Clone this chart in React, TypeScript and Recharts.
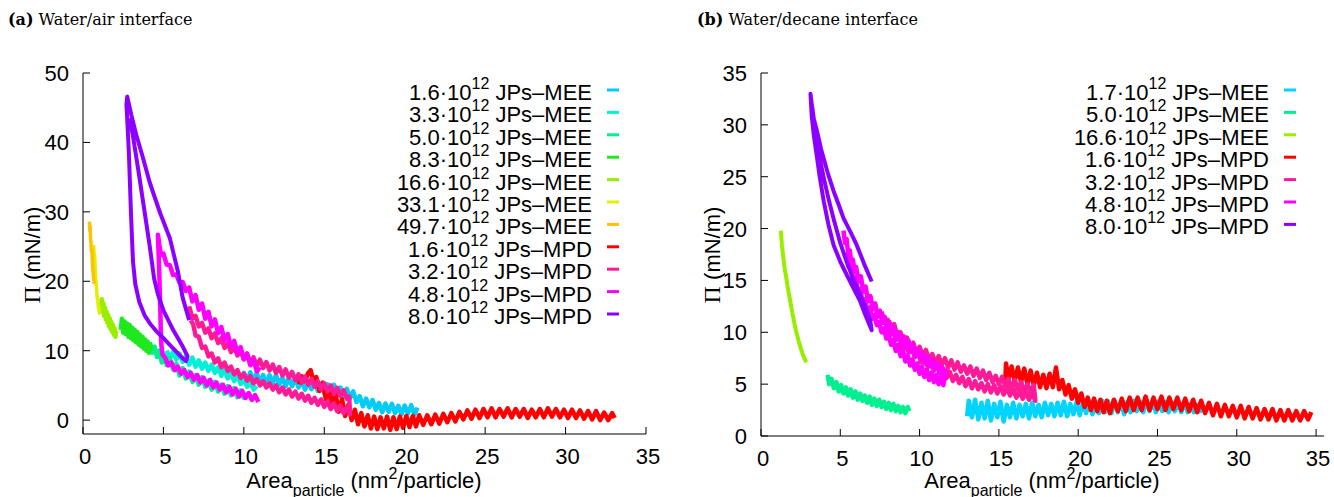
import { LineChart, Line, XAxis, YAxis } from "recharts";

// Two Langmuir isotherm panels (surface pressure vs area per particle),
// water/air on the left, water/decane on the right. Each run is a noisy,
// thick trace, so the points below are read off the picture with the jitter kept.

type Pt = [number, number];

const SANS = "'Liberation Sans', Arial, Helvetica, sans-serif";
const SERIF = "'DejaVu Serif', 'Liberation Serif', serif";

const xTicks = [0, 5, 10, 15, 20, 25, 30, 35];
const airYTicks = [0, 10, 20, 30, 40, 50];
const decYTicks = [0, 5, 10, 15, 20, 25, 30, 35];

// ---- (a) water/air ----
const airMee1_6: Pt[] = [
  [9.6, 7.0], [9.8, 5.85], [10.0, 6.8], [10.2, 5.65], [10.4, 6.9], [10.6, 5.7], [10.8, 6.8], [11.0, 5.4],
  [11.2, 6.5], [11.4, 5.25], [11.6, 6.5], [11.8, 5.35], [12.0, 6.5], [12.2, 5.1], [12.4, 6.15], [12.6, 4.9],
  [12.8, 6.1], [13.0, 4.9], [13.2, 6.05], [13.4, 4.7], [13.6, 5.7], [13.8, 4.4], [14.0, 5.6], [14.2, 4.45],
  [14.4, 5.6], [14.6, 4.2], [14.8, 5.2], [15.0, 3.9], [15.2, 5.15], [15.4, 4.0], [15.6, 5.1], [15.8, 3.7],
  [16.0, 4.7], [16.2, 3.35], [16.4, 4.5], [16.6, 3.2], [16.8, 4.15], [17.0, 2.6], [17.2, 3.45], [17.4, 2.0],
  [17.6, 3.1], [17.8, 1.85], [18.0, 2.9], [18.2, 1.5], [18.4, 2.45], [18.6, 1.15], [18.8, 2.4], [19.0, 1.2],
  [19.2, 2.35], [19.4, 1.0], [19.6, 2.05], [19.8, 0.8], [20.0, 2.1], [20.2, 0.95], [20.4, 2.15], [20.6, 0.8],
  [20.8, 1.8],
];
const airMee3_3: Pt[] = [
  [5.2, 10.0], [5.4, 8.9], [5.6, 9.8], [5.8, 8.7], [6.0, 9.6], [6.2, 8.4], [6.4, 9.2], [6.6, 8.0],
  [6.8, 9.0], [7.0, 7.7], [7.2, 8.6], [7.4, 7.4], [7.6, 8.3], [7.8, 7.1], [8.0, 8.0], [8.2, 6.8],
  [8.4, 7.6], [8.6, 6.4], [8.8, 7.3], [9.0, 6.0], [9.2, 6.8], [9.4, 5.6], [9.6, 6.4], [9.8, 5.2],
  [10.0, 6.0], [10.2, 4.8], [10.4, 5.5], [10.6, 4.4], [10.8, 4.9],
];
const airMee5_0: Pt[] = [
  [4.15, 11.2], [4.3, 9.7], [4.45, 10.6], [4.6, 9.1], [4.75, 10.0], [4.9, 8.3], [5.05, 9.4], [5.2, 7.9],
  [5.4, 8.9], [5.6, 7.3], [5.8, 8.1], [6.0, 6.4], [6.2, 7.5], [6.4, 6.0], [6.6, 7.0], [6.8, 5.5],
  [7.0, 6.5], [7.2, 5.1], [7.4, 6.2], [7.6, 4.8], [7.8, 5.7], [8.0, 4.4], [8.2, 5.5], [8.4, 4.1],
  [8.6, 5.1], [8.8, 3.8], [9.0, 4.9], [9.2, 3.6], [9.4, 4.6], [9.6, 3.3], [9.8, 4.3], [10.0, 3.2],
  [10.1, 3.9],
];
const airMee8_3: Pt[] = [
  [2.35, 13.0], [2.42, 14.6], [2.5, 12.6], [2.58, 14.2], [2.66, 12.4], [2.74, 13.9], [2.82, 12.0],
  [2.9, 13.7], [2.98, 11.8], [3.06, 13.3], [3.14, 11.5], [3.22, 13.0], [3.3, 11.2], [3.38, 12.7],
  [3.46, 10.9], [3.54, 12.3], [3.62, 10.6], [3.7, 12.0], [3.78, 10.3], [3.86, 11.6], [3.94, 10.0],
  [4.02, 11.3], [4.1, 9.7], [4.18, 10.9], [4.24, 10.0],
];
const airMee16_6: Pt[] = [
  [1.12, 16.2], [1.17, 17.4], [1.22, 15.6], [1.27, 16.8], [1.32, 15.0], [1.37, 16.2], [1.42, 14.5],
  [1.47, 15.6], [1.52, 14.0], [1.57, 15.1], [1.62, 13.5], [1.67, 14.6], [1.72, 13.1], [1.77, 14.1],
  [1.82, 12.7], [1.87, 13.7], [1.92, 12.3], [1.97, 13.2], [2.02, 12.0], [2.06, 12.8],
];
const airMee33_1: Pt[] = [
  [0.66, 25.2], [0.69, 23.6], [0.72, 23.9], [0.75, 22.2], [0.78, 21.0], [0.81, 19.6], [0.84, 19.0],
  [0.88, 17.6], [0.92, 17.2], [0.96, 16.2], [1.0, 15.8], [1.05, 15.2],
];
const airMee49_7: Pt[] = [
  [0.4, 28.6], [0.42, 27.3], [0.45, 27.9], [0.47, 26.1], [0.5, 25.5], [0.52, 24.3], [0.55, 24.7],
  [0.58, 22.9], [0.6, 22.1], [0.63, 21.3], [0.66, 20.5], [0.7, 19.6],
];
const airMpd1_6: Pt[] = [
  [13.4, 5.2], [13.6, 6.3], [13.8, 5.6], [14.0, 6.8], [14.15, 7.2], [14.3, 5.8], [14.5, 6.2], [14.7, 4.2],
  [14.9, 5.4], [15.1, 3.0], [15.3, 4.5], [15.5, 2.0], [15.7, 3.8], [15.9, 1.2], [16.1, 3.0], [16.3, 0.6],
  [16.5, 2.2], [16.7, 0.0], [16.9, 1.5], [17.1, -0.6], [17.3, 1.0], [17.5, -0.9], [17.7, 0.7], [17.9, -1.2],
  [18.1, 0.5], [18.3, -1.3], [18.5, 0.4], [18.7, -1.2], [18.9, 0.5], [19.1, -1.4], [19.3, 0.4], [19.5, -1.3],
  [19.7, 0.5], [19.9, -1.1], [20.1, 0.6], [20.3, -1.0], [20.5, 0.6], [20.7, -0.9], [20.9, 0.7], [21.15, -0.7],
  [21.4, 0.7], [21.65, -0.6], [21.9, 0.8], [22.15, -0.5], [22.4, 0.9], [22.65, -0.3], [22.9, 1.0], [23.15, -0.2],
  [23.4, 1.2], [23.65, 0.1], [23.9, 1.4], [24.15, 0.2], [24.4, 1.5], [24.65, 0.3], [24.9, 1.6], [25.15, 0.4],
  [25.4, 1.7], [25.65, 0.4], [25.9, 1.6], [26.15, 0.5], [26.4, 1.7], [26.65, 0.4], [26.9, 1.6], [27.15, 0.5],
  [27.4, 1.6], [27.65, 0.3], [27.9, 1.5], [28.15, 0.4], [28.4, 1.6], [28.65, 0.4], [28.9, 1.7], [29.15, 0.5],
  [29.4, 1.6], [29.65, 0.4], [29.9, 1.5], [30.15, 0.3], [30.4, 1.5], [30.65, 0.3], [30.9, 1.4], [31.15, 0.2],
  [31.4, 1.3], [31.65, 0.1], [31.9, 1.3], [32.15, 0.0], [32.4, 1.1], [32.65, 0.0], [32.9, 1.0], [33.05, 0.3],
];
const airMpd3_2: Pt[] = [
  [6.6, 16.4], [6.8, 14.7], [7.0, 15.0], [7.2, 13.5], [7.4, 14.0], [7.6, 12.6], [7.8, 13.2], [8.0, 11.8],
  [8.2, 12.5], [8.4, 11.1], [8.6, 11.8], [8.8, 10.4], [9.0, 11.1], [9.2, 9.8], [9.4, 10.55], [9.6, 9.3],
  [9.8, 10.0], [10.0, 8.75], [10.2, 9.5], [10.4, 8.2], [10.6, 9.05], [10.8, 7.85], [11.0, 8.7], [11.2, 7.5],
  [11.4, 8.35], [11.6, 7.15], [11.8, 8.0], [12.0, 6.8], [12.2, 7.65], [12.4, 6.45], [12.6, 7.3], [12.8, 6.1],
  [13.0, 6.95], [13.2, 5.75], [13.4, 6.6], [13.6, 5.4], [13.8, 6.25], [14.0, 5.1], [14.2, 5.95], [14.4, 4.8],
  [14.6, 5.6], [14.8, 4.45], [15.0, 5.3], [15.2, 4.15], [15.4, 5.0], [15.6, 3.8], [15.8, 4.65], [16.0, 3.5],
  [16.2, 4.3], [16.4, 3.1], [16.55, 3.4],
  [16.6, 0.8], [16.4, 1.8], [16.2, 1.0], [16.0, 2.1], [15.8, 1.3], [15.6, 2.4], [15.4, 1.6], [15.2, 2.7],
  [15.0, 1.9], [14.8, 3.0], [14.6, 2.2], [14.4, 3.2], [14.2, 2.5], [14.0, 3.5], [13.8, 2.8], [13.6, 3.8],
  [13.4, 3.1], [13.2, 4.1], [13.0, 3.4], [12.8, 4.4], [12.6, 3.7], [12.4, 4.7], [12.2, 4.0], [12.0, 5.0],
  [11.8, 4.4], [11.6, 5.3], [11.4, 4.7], [11.2, 5.6], [11.0, 5.0], [10.8, 5.9], [10.6, 5.3], [10.4, 6.3],
  [10.2, 5.7], [10.0, 6.7], [9.8, 6.1], [9.6, 7.2], [9.4, 6.6], [9.2, 7.7], [9.0, 7.1], [8.8, 8.3],
  [8.6, 7.6], [8.4, 8.9], [8.2, 8.3], [8.0, 9.6], [7.8, 9.2], [7.6, 10.6], [7.4, 10.4], [7.2, 12.0],
  [7.0, 12.2], [6.85, 13.8], [6.7, 14.4],
];
const airMpd4_8: Pt[] = [
  [10.9, 2.6], [10.7, 3.6], [10.5, 2.9], [10.3, 3.9], [10.1, 3.2], [9.9, 4.2], [9.7, 3.4], [9.5, 4.5],
  [9.3, 3.7], [9.1, 4.8], [8.9, 4.0], [8.7, 5.1], [8.5, 4.4], [8.3, 5.4], [8.1, 4.7], [7.9, 5.8],
  [7.7, 5.0], [7.5, 6.1], [7.3, 5.4], [7.1, 6.5], [6.9, 5.8], [6.7, 6.8], [6.5, 6.2], [6.3, 7.2],
  [6.1, 6.7], [5.9, 7.7], [5.7, 7.2], [5.5, 8.3], [5.3, 7.9], [5.1, 9.0], [4.95, 9.4], [4.88, 10.6],
  [4.85, 12.0], [4.82, 14.5], [4.78, 18.0], [4.74, 21.5], [4.7, 24.0], [4.66, 26.7],
  [4.75, 25.2], [4.85, 23.8], [5.0, 24.0], [5.2, 22.4], [5.4, 22.3], [5.6, 20.9], [5.8, 21.0], [6.0, 19.8],
  [6.2, 19.9], [6.4, 18.6], [6.6, 19.1], [6.8, 17.1], [7.0, 18.0], [7.2, 15.9], [7.4, 16.8], [7.6, 14.6],
  [7.8, 15.6], [8.0, 13.5], [8.2, 14.5], [8.4, 12.5], [8.6, 13.4], [8.8, 11.5], [9.0, 12.4], [9.2, 10.6],
  [9.4, 11.4], [9.6, 9.7], [9.8, 10.5], [10.0, 8.8], [10.2, 9.6], [10.4, 7.9], [10.6, 8.7], [10.8, 7.0],
  [11.0, 7.6],
];
const airMpd8_0: Pt[] = [
  [6.6, 14.4], [6.2, 17.6], [5.9, 21.4], [5.4, 26.2], [4.8, 29.8], [4.4, 32.5], [4.14, 34.3], [3.7, 38.0],
  [3.31, 41.1], [3.0, 44.0], [2.75, 46.6],
  [2.7, 45.5], [2.78, 42.0], [2.85, 38.6], [2.92, 34.0], [2.98, 30.0], [3.04, 26.5], [3.11, 22.8],
  [3.25, 19.6], [3.5, 17.0], [3.83, 15.1], [4.2, 13.8], [4.56, 12.8], [5.0, 11.8], [5.5, 10.6],
  [5.9, 9.6], [6.2, 8.9], [6.4, 8.5],
  [6.5, 9.2], [6.2, 10.6], [5.6, 13.0], [5.0, 15.8], [4.65, 18.2], [4.42, 20.4], [4.14, 25.2],
  [3.83, 30.0], [3.42, 36.3], [3.1, 41.0], [2.9, 43.5],
];

const airSeries = [
  airMee1_6, airMee3_3, airMee5_0, airMee8_3, airMee16_6, airMee33_1, airMee49_7,
  airMpd1_6, airMpd3_2, airMpd4_8, airMpd8_0,
];
const airConc = ["1.6", "3.3", "5.0", "8.3", "16.6", "33.1", "49.7", "1.6", "3.2", "4.8", "8.0"];
const airKind = ["MEE", "MEE", "MEE", "MEE", "MEE", "MEE", "MEE", "MPD", "MPD", "MPD", "MPD"];
const airColors = [
  "#00ccf5", "#00f0d8", "#00f090", "#1ee81e", "#99ee00", "#e2f000", "#ffc200",
  "#ff0000", "#ff1a98", "#ff00ff", "#8c00ff",
];

// ---- (b) water/decane ----
const decMee1_7: Pt[] = [
  [13.0, 1.9], [13.1, 3.4], [13.3, 1.8], [13.5, 3.5], [13.7, 1.6], [13.9, 3.2], [14.1, 1.7], [14.3, 3.4],
  [14.5, 1.5], [14.7, 3.1], [14.9, 1.8], [15.1, 3.3], [15.3, 1.4], [15.5, 3.0], [15.7, 1.8], [15.9, 3.2],
  [16.1, 1.7], [16.3, 3.0], [16.5, 1.9], [16.7, 3.1], [16.9, 1.7], [17.1, 3.2], [17.3, 1.9], [17.5, 3.0],
  [17.7, 1.8], [17.9, 3.2], [18.1, 2.0], [18.3, 3.1], [18.5, 1.9], [18.7, 3.2], [18.9, 2.0], [19.1, 3.3],
  [19.3, 1.9], [19.5, 3.1], [19.7, 2.1], [19.9, 3.3], [20.1, 2.0], [20.3, 3.2], [20.5, 2.2], [20.7, 3.4],
  [20.9, 2.1], [21.1, 3.3], [21.3, 2.2], [21.5, 3.4], [21.7, 2.3], [21.9, 3.3], [22.1, 2.2], [22.3, 3.4],
  [22.5, 2.3], [22.7, 3.2], [22.9, 2.1], [23.1, 3.3], [23.3, 2.3], [23.5, 3.4], [23.7, 2.4], [23.9, 3.3],
  [24.1, 2.3], [24.3, 3.4], [24.5, 2.4], [24.7, 3.3], [24.9, 2.3], [25.1, 3.4], [25.3, 2.4], [25.5, 3.3],
  [25.7, 2.3], [25.9, 3.2], [26.1, 2.4], [26.3, 3.3], [26.5, 2.3], [26.7, 3.2], [26.9, 2.3], [27.1, 3.1],
  [27.3, 2.3], [27.5, 3.0], [27.7, 2.4], [27.85, 2.8],
];
const decMee5_0: Pt[] = [
  [4.2, 5.9], [4.3, 5.0], [4.45, 5.5], [4.6, 4.6], [4.75, 5.2], [4.9, 4.3], [5.05, 4.9], [5.2, 4.1],
  [5.35, 4.7], [5.5, 3.9], [5.65, 4.5], [5.8, 3.7], [5.95, 4.3], [6.1, 3.5], [6.25, 4.1], [6.4, 3.4],
  [6.55, 3.9], [6.7, 3.2], [6.85, 3.8], [7.0, 3.0], [7.15, 3.6], [7.3, 2.9], [7.45, 3.5], [7.6, 2.8],
  [7.75, 3.3], [7.9, 2.6], [8.05, 3.2], [8.2, 2.5], [8.35, 3.1], [8.5, 2.4], [8.65, 2.9], [8.8, 2.3],
  [8.95, 2.8], [9.1, 2.2], [9.25, 2.8], [9.35, 2.4],
];
const decMee16_6: Pt[] = [
  [1.25, 19.8], [1.32, 18.4], [1.4, 17.3], [1.5, 16.1], [1.6, 15.2], [1.7, 14.2], [1.8, 13.4], [1.9, 12.5],
  [2.0, 11.7], [2.1, 10.9], [2.2, 10.2], [2.35, 9.3], [2.5, 8.5], [2.65, 7.8], [2.85, 7.1],
];
const decMpd1_6: Pt[] = [
  [15.4, 5.2], [15.45, 7.0], [15.6, 5.5], [15.8, 6.7], [16.0, 5.3], [16.2, 6.6], [16.4, 5.2], [16.6, 6.5],
  [16.8, 5.0], [17.0, 6.3], [17.2, 4.9], [17.4, 6.1], [17.6, 4.7], [17.8, 5.9], [18.0, 4.6], [18.2, 6.0],
  [18.4, 4.7], [18.6, 6.6], [18.8, 4.5], [19.0, 5.4], [19.2, 4.0], [19.4, 4.9], [19.6, 3.6], [19.8, 4.5],
  [20.0, 3.2], [20.2, 4.1], [20.4, 2.8], [20.6, 3.7], [20.8, 2.5], [21.0, 3.6], [21.2, 2.4], [21.4, 3.5],
  [21.6, 2.3], [21.8, 3.4], [22.0, 2.2], [22.25, 3.5], [22.5, 2.4], [22.75, 3.6], [23.0, 2.4], [23.25, 3.7],
  [23.5, 2.5], [23.75, 3.7], [24.0, 2.5], [24.25, 3.8], [24.5, 2.5], [24.75, 3.7], [25.0, 2.6], [25.25, 3.8],
  [25.5, 2.5], [25.75, 3.7], [26.0, 2.6], [26.25, 3.7], [26.5, 2.5], [26.75, 3.6], [27.0, 2.4], [27.25, 3.5],
  [27.5, 2.3], [27.75, 3.4], [28.0, 2.2], [28.25, 3.2], [28.5, 2.0], [28.75, 3.1], [29.0, 1.9], [29.25, 3.0],
  [29.5, 1.9], [29.75, 2.9], [30.0, 1.8], [30.25, 2.9], [30.5, 1.7], [30.75, 2.8], [31.0, 1.7], [31.25, 2.7],
  [31.5, 1.6], [31.75, 2.6], [32.0, 1.6], [32.25, 2.6], [32.5, 1.5], [32.75, 2.5], [33.0, 1.5], [33.25, 2.5],
  [33.5, 1.5], [33.75, 2.4], [34.0, 1.5], [34.25, 2.4], [34.5, 1.6], [34.7, 2.3],
];
const decMpd3_2: Pt[] = [
  [7.6, 12.0], [7.8, 10.9], [8.0, 11.2], [8.2, 10.1], [8.4, 10.8], [8.6, 9.6], [8.8, 10.0], [9.0, 8.8],
  [9.2, 9.5], [9.4, 8.4], [9.6, 9.0], [9.8, 8.0], [10.0, 8.6], [10.2, 7.7], [10.4, 8.3], [10.6, 7.3],
  [10.8, 7.9], [11.0, 7.0], [11.2, 7.7], [11.4, 6.9], [11.6, 7.5], [11.8, 6.6], [12.0, 7.3], [12.2, 6.4],
  [12.4, 7.1], [12.6, 6.2], [12.8, 6.8], [13.0, 6.0], [13.2, 6.7], [13.4, 5.8], [13.6, 6.5], [13.8, 5.6],
  [14.0, 6.3], [14.2, 5.4], [14.4, 6.1], [14.6, 5.2], [14.8, 5.8], [15.0, 5.0], [15.2, 5.7], [15.4, 4.8],
  [15.6, 5.5], [15.8, 4.6], [16.0, 5.4], [16.2, 4.5], [16.4, 5.2], [16.6, 4.3], [16.8, 5.0], [17.0, 4.2],
  [17.2, 4.9],
  [17.3, 3.4], [17.1, 4.1], [16.9, 3.5], [16.7, 4.2], [16.5, 3.6], [16.3, 4.4], [16.1, 3.7], [15.9, 4.5],
  [15.7, 3.9], [15.5, 4.7], [15.3, 4.0], [15.1, 4.8], [14.9, 4.1], [14.7, 4.9], [14.5, 4.2], [14.3, 5.0],
  [14.1, 4.3], [13.9, 5.1], [13.7, 4.5], [13.5, 5.3], [13.3, 4.6], [13.1, 5.5], [12.9, 4.8], [12.7, 5.7],
  [12.5, 5.1], [12.3, 5.9], [12.1, 5.3], [11.9, 6.2], [11.7, 5.6], [11.5, 6.5], [11.3, 6.0], [11.1, 6.9],
  [10.9, 6.3], [10.7, 7.2], [10.5, 6.7], [10.3, 7.6], [10.1, 7.1], [9.9, 8.0], [9.7, 7.6], [9.5, 8.5],
  [9.3, 8.1], [9.1, 9.1], [8.9, 8.6], [8.7, 9.7], [8.5, 9.3], [8.3, 10.3], [8.1, 10.0], [7.9, 11.0],
  [7.7, 10.8],
];
const decMpd4_8: Pt[] = [
  [5.2, 19.8], [5.3, 18.6], [5.4, 19.0], [5.5, 17.5], [5.6, 17.9], [5.7, 16.6], [5.8, 17.0], [5.9, 15.8],
  [6.0, 16.3], [6.15, 14.9], [6.3, 15.4], [6.45, 13.9], [6.6, 14.4], [6.75, 13.0], [6.9, 13.5], [7.05, 12.2],
  [7.2, 12.8], [7.35, 11.5], [7.5, 12.1], [7.65, 10.9], [7.8, 11.5], [7.95, 10.3], [8.1, 11.0], [8.25, 9.8],
  [8.4, 10.5], [8.55, 9.3], [8.7, 10.0], [8.85, 8.9], [9.0, 9.6], [9.15, 8.5], [9.3, 9.2], [9.45, 8.1],
  [9.6, 8.8], [9.75, 7.7], [9.9, 8.4], [10.05, 7.4], [10.2, 8.0], [10.35, 7.0], [10.5, 7.7], [10.65, 6.7],
  [10.8, 7.3], [10.95, 6.4], [11.1, 7.0], [11.25, 6.1], [11.4, 6.7], [11.55, 5.8], [11.65, 6.3],
  [11.5, 4.9], [11.35, 5.7], [11.2, 5.0], [11.05, 5.9], [10.9, 5.2], [10.75, 6.1], [10.6, 5.4], [10.45, 6.4],
  [10.3, 5.7], [10.15, 6.7], [10.0, 6.0], [9.85, 7.0], [9.7, 6.4], [9.55, 7.4], [9.4, 6.8], [9.25, 7.8],
  [9.1, 7.2], [8.95, 8.3], [8.8, 7.7], [8.65, 8.8], [8.5, 8.2], [8.35, 9.3], [8.2, 8.8], [8.05, 9.8],
  [7.9, 9.4], [7.75, 10.4], [7.6, 10.0], [7.45, 11.0], [7.3, 10.7], [7.15, 11.7], [7.0, 11.3], [6.85, 12.4],
  [6.7, 12.1], [6.55, 13.2], [6.4, 13.0], [6.25, 14.2], [6.1, 14.0], [5.95, 15.3], [5.8, 15.2], [5.65, 16.5],
  [5.5, 16.4], [5.4, 17.5], [5.3, 17.6],
];
const decMpd8_0: Pt[] = [
  [6.98, 14.9], [6.5, 16.6], [6.04, 18.4], [5.6, 19.8], [5.2, 21.0], [4.9, 22.3], [4.58, 23.6], [4.2, 25.4],
  [3.8, 27.6], [3.5, 29.6], [3.33, 30.6], [3.2, 32.0], [3.12, 33.0],
  [3.2, 30.8], [3.33, 29.0], [3.5, 27.2], [3.7, 25.0], [3.96, 22.6], [4.25, 20.4], [4.58, 18.4],
  [5.0, 16.8], [5.42, 15.5], [5.85, 14.2], [6.25, 13.0], [6.6, 11.6], [6.98, 10.2],
  [6.9, 11.0], [6.6, 12.4], [6.2, 13.8], [5.8, 15.2], [5.4, 16.8], [5.0, 18.6], [4.6, 20.8], [4.3, 22.6],
  [4.0, 24.6], [3.7, 26.8], [3.45, 29.0], [3.25, 31.5],
];

const decSeries = [decMee1_7, decMee5_0, decMee16_6, decMpd1_6, decMpd3_2, decMpd4_8, decMpd8_0];
const decConc = ["1.7", "5.0", "16.6", "1.6", "3.2", "4.8", "8.0"];
const decKind = ["MEE", "MEE", "MEE", "MPD", "MPD", "MPD", "MPD"];
const decColors = ["#00d4ff", "#00f090", "#99ee00", "#ff0000", "#ff1a98", "#ff00ff", "#8c00ff"];

// line widths: the jittery runs get a fat pen so the zigzag fills into a band
const airWidths = [4.5, 4.5, 4.5, 4.5, 4.5, 3.5, 3.5, 4.5, 4.5, 4.5, 4];
const decWidths = [4.5, 4.5, 4, 4.5, 4.5, 4.5, 4];

const toRows = (pts: Pt[]) => pts.map(([x, y]) => ({ x, y }));

// gnuplot style: ticks point into the plot on all four sides
const BottomTick = ({ x, y, payload }: any) => (
  <g>
    <line x1={x} x2={x} y1={y} y2={y - 7} stroke="#000" />
    <text x={x + 2} y={y + 30} textAnchor="middle" fontFamily={SANS} fontSize={22} fill="#000">
      {payload.value}
    </text>
  </g>
);
const LeftTick = ({ x, y, payload }: any) => (
  <g>
    <line x1={x} x2={x + 7} y1={y} y2={y} stroke="#000" />
    <text x={x - 14} y={y + 8} textAnchor="end" fontFamily={SANS} fontSize={22} fill="#000">
      {payload.value}
    </text>
  </g>
);
const TopTick = ({ x, y }: any) => <line x1={x} x2={x} y1={y} y2={y + 7} stroke="#000" />;
const RightTick = ({ x, y }: any) => <line x1={x} x2={x - 7} y1={y} y2={y} stroke="#000" />;

type PanelProps = {
  left: number;
  width: number;
  right: number;
  yWidth: number;
  xHeight: number;
  xMax: number;
  yDomain: [number, number];
  yTicks: number[];
  series: Pt[][];
  colors: string[];
  widths: number[];
};

function Panel({ left, width, right, yWidth, xHeight, xMax, yDomain, yTicks, series, colors, widths }: PanelProps) {
  const axisLine = { stroke: "#000", strokeWidth: 1 };
  return (
    <div style={{ position: "absolute", left, top: 0 }}>
      <LineChart width={width} height={497} margin={{ top: 73, right, bottom: 0, left: 0 }}>
        <XAxis
          type="number"
          dataKey="x"
          domain={[0, xMax]}
          ticks={xTicks}
          allowDataOverflow
          height={xHeight}
          tickSize={0}
          tickMargin={0}
          axisLine={axisLine}
          tickLine={false}
          tick={BottomTick}
        />
        <XAxis
          xAxisId="top"
          orientation="top"
          type="number"
          domain={[0, xMax]}
          ticks={xTicks}
          allowDataOverflow
          height={0}
          tickSize={0}
          tickMargin={0}
          axisLine={axisLine}
          tickLine={false}
          tick={TopTick}
        />
        <YAxis
          type="number"
          domain={yDomain}
          ticks={yTicks}
          allowDataOverflow
          width={yWidth}
          tickSize={0}
          tickMargin={0}
          axisLine={axisLine}
          tickLine={false}
          tick={LeftTick}
        />
        <YAxis
          yAxisId="right"
          orientation="right"
          type="number"
          domain={yDomain}
          ticks={yTicks}
          allowDataOverflow
          width={0}
          tickSize={0}
          tickMargin={0}
          axisLine={axisLine}
          tickLine={false}
          tick={RightTick}
        />
        {series.map((pts, i) => (
          <Line
            key={i}
            data={toRows(pts)}
            dataKey="y"
            type="linear"
            stroke={colors[i]}
            strokeWidth={widths[i]}
            strokeLinejoin="round"
            dot={false}
            activeDot={false}
            isAnimationActive={false}
          />
        ))}
      </LineChart>
    </div>
  );
}

function Legend({ right, conc, kind, colors }: { right: number; conc: string[]; kind: string[]; colors: string[] }) {
  return (
    <>
      {conc.map((c, i) => {
        const base = 100 + i * 22.4;
        return (
          <g key={i}>
            <text x={right} y={base} textAnchor="end" fontFamily={SANS} fontSize={22} fill="#000">
              {c}·10
              <tspan fontSize={16} dy={-11}>12</tspan>
              <tspan fontSize={22} dy={11}>{` JPs–${kind[i]}`}</tspan>
            </text>
            <line x1={right + 15} x2={right + 27} y1={base - 10} y2={base - 10} stroke={colors[i]} strokeWidth={3} />
          </g>
        );
      })}
    </>
  );
}

function Titles({ cx, yx, tx, title, tag }: { cx: number; yx: number; tx: number; title: string; tag: string }) {
  return (
    <>
      <text x={cx} y={488} textAnchor="middle" fontFamily={SANS} fontSize={22} fill="#000">
        Area
        <tspan fontSize={16} dy={8}>particle</tspan>
        <tspan fontSize={22} dy={-8}> (nm</tspan>
        <tspan fontSize={16} dy={-9}>2</tspan>
        <tspan fontSize={22} dy={9}>/particle)</tspan>
      </text>
      <text
        x={yx}
        y={255}
        transform={`rotate(-90 ${yx} 255)`}
        textAnchor="middle"
        fontFamily={SANS}
        fontSize={22}
        fill="#000"
      >
        <tspan fontFamily="'Liberation Serif', serif" fontSize={24}>Π</tspan> (mN/m)
      </text>
      <text x={tx} y={25} fontFamily={SERIF} fontSize={16} fill="#000">
        <tspan fontWeight="bold">{tag}</tspan> {title}
      </text>
    </>
  );
}

export default function App() {
  return (
    <div style={{ position: "absolute", left: 0, top: 0, width: 1334, height: 497, background: "#fff" }}>
      <Panel left={0} width={660} right={14} yWidth={83} xHeight={63} xMax={35} yDomain={[-2, 50]} yTicks={airYTicks} series={airSeries} colors={airColors} widths={airWidths} />
      <Panel left={670} width={664} right={10} yWidth={91} xHeight={61} xMax={35.5} yDomain={[0, 35]} yTicks={decYTicks} series={decSeries} colors={decColors} widths={decWidths} />
      <svg width={1334} height={497} style={{ position: "absolute", left: 0, top: 0, pointerEvents: "none" }}>
        <Titles cx={364} yx={40} tx={8} title="Water/air interface" tag="(a)" />
        <Titles cx={1042} yx={720} tx={697} title="Water/decane interface" tag="(b)" />
        <Legend right={592} conc={airConc} kind={airKind} colors={airColors} />
        <Legend right={1269} conc={decConc} kind={decKind} colors={decColors} />
      </svg>
    </div>
  );
}
